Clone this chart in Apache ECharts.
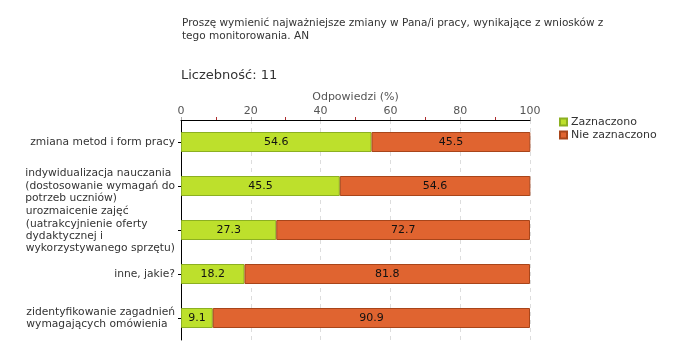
<!DOCTYPE html>
<html><head><meta charset="utf-8">
<script src="https://cdn.jsdelivr.net/npm/echarts@6/dist/echarts.min.js"></script>
<style>html,body{margin:0;padding:0;background:#fff}#c{width:680px;height:360px}</style>
</head><body><div id="c"></div>
<script>
const categories = [
  "zmiana metod i form pracy",
  "indywidualizacja nauczania\n(dostosowanie wymagań do\npotrzeb uczniów)",
  "urozmaicenie zajęć\n(uatrakcyjnienie oferty\ndydaktycznej i\nwykorzystywanego sprzętu)",
  "inne, jakie?",
  "zidentyfikowanie zagadnień\nwymagających omówienia"
];
const zaznaczono = [54.6, 45.5, 27.3, 18.2, 9.1];
const nieZaznaczono = [45.5, 54.6, 72.7, 81.8, 90.9];
const seriesNames = ["Zaznaczono", "Nie zaznaczono"];
const xTicks = [0, 20, 40, 60, 80, 100];

const font = "DejaVu Sans";
const chart = echarts.init(document.getElementById('c'));
chart.setOption({
  backgroundColor: '#fff',
  animation: false,
  textStyle: { fontFamily: font },
  title: [
    { text: "Proszę wymienić najważniejsze zmiany w Pana/i pracy, wynikające z wniosków z\ntego monitorowania. AN",
      left: 182, top: 17, padding: 0,
      textStyle: { fontSize: 10.5, fontWeight: 'normal', color: '#333', lineHeight: 13, fontFamily: font } },
    { text: "Liczebność: 11", left: 181, top: 69, padding: 0,
      textStyle: { fontSize: 13, fontWeight: 'normal', color: '#333', fontFamily: font } }
  ],
  legend: {
    orient: 'vertical', left: 559, top: 116, padding: 0, itemWidth: 7, itemHeight: 7, itemGap: 1,
    icon: 'rect',
    textStyle: { fontSize: 11, color: '#333', fontFamily: font, padding: [0,0,0,-1], lineHeight: 12 },
    data: seriesNames
  },
  grid: { left: 181, right: 150, top: 120, bottom: 20 },
  xAxis: {
    type: 'value', position: 'top', min: 0, max: 100, interval: 20,
    name: 'Odpowiedzi (%)', nameLocation: 'middle', nameGap: 17, nameMoveOverlap: false,
    nameTextStyle: { fontSize: 11, color: '#555', fontFamily: font },
    axisLine: { show: true, lineStyle: { color: '#000', width: 1 } },
    axisTick: { show: true, length: 3, lineStyle: { color: '#aaa' } },
    minorTick: { show: true, splitNumber: 2, length: 3, lineStyle: { color: '#b03030' } },
    axisLabel: { fontSize: 11, color: '#555', margin: 3, fontFamily: font,
      formatter: v => xTicks.includes(v) ? String(v) : '' },
    splitLine: { show: true, lineStyle: { color: '#ddd', type: [4, 4] } }
  },
  yAxis: {
    type: 'category', inverse: true, data: categories,
    axisLine: { show: true, lineStyle: { color: '#000' } },
    axisTick: { show: true, alignWithLabel: true, length: 3, lineStyle: { color: '#000' } },
    axisLabel: { fontSize: 10.7, color: '#333', lineHeight: 12.3, margin: 6, fontFamily: font,
      formatter: v => v.split('\n').map(s => '{l|' + s + '}').join('\n'),
      rich: { l: { align: 'left', fontSize: 10.7, color: '#333', lineHeight: 12.3, fontFamily: font } } }
  },
  series: [
    { name: seriesNames[0], type: 'bar', stack: 'a', data: zaznaczono, barWidth: 20,
      itemStyle: { color: '#bde02c', borderColor: '#8cb021', borderWidth: 1 },
      label: { show: true, position: 'inside', color: '#111', fontSize: 11, fontFamily: font } },
    { name: seriesNames[1], type: 'bar', stack: 'a', data: nieZaznaczono, barWidth: 20,
      itemStyle: { color: '#e06430', borderColor: '#a8451a', borderWidth: 1 },
      label: { show: true, position: 'inside', color: '#111', fontSize: 11, fontFamily: font } }
  ]
});
</script></body></html>
